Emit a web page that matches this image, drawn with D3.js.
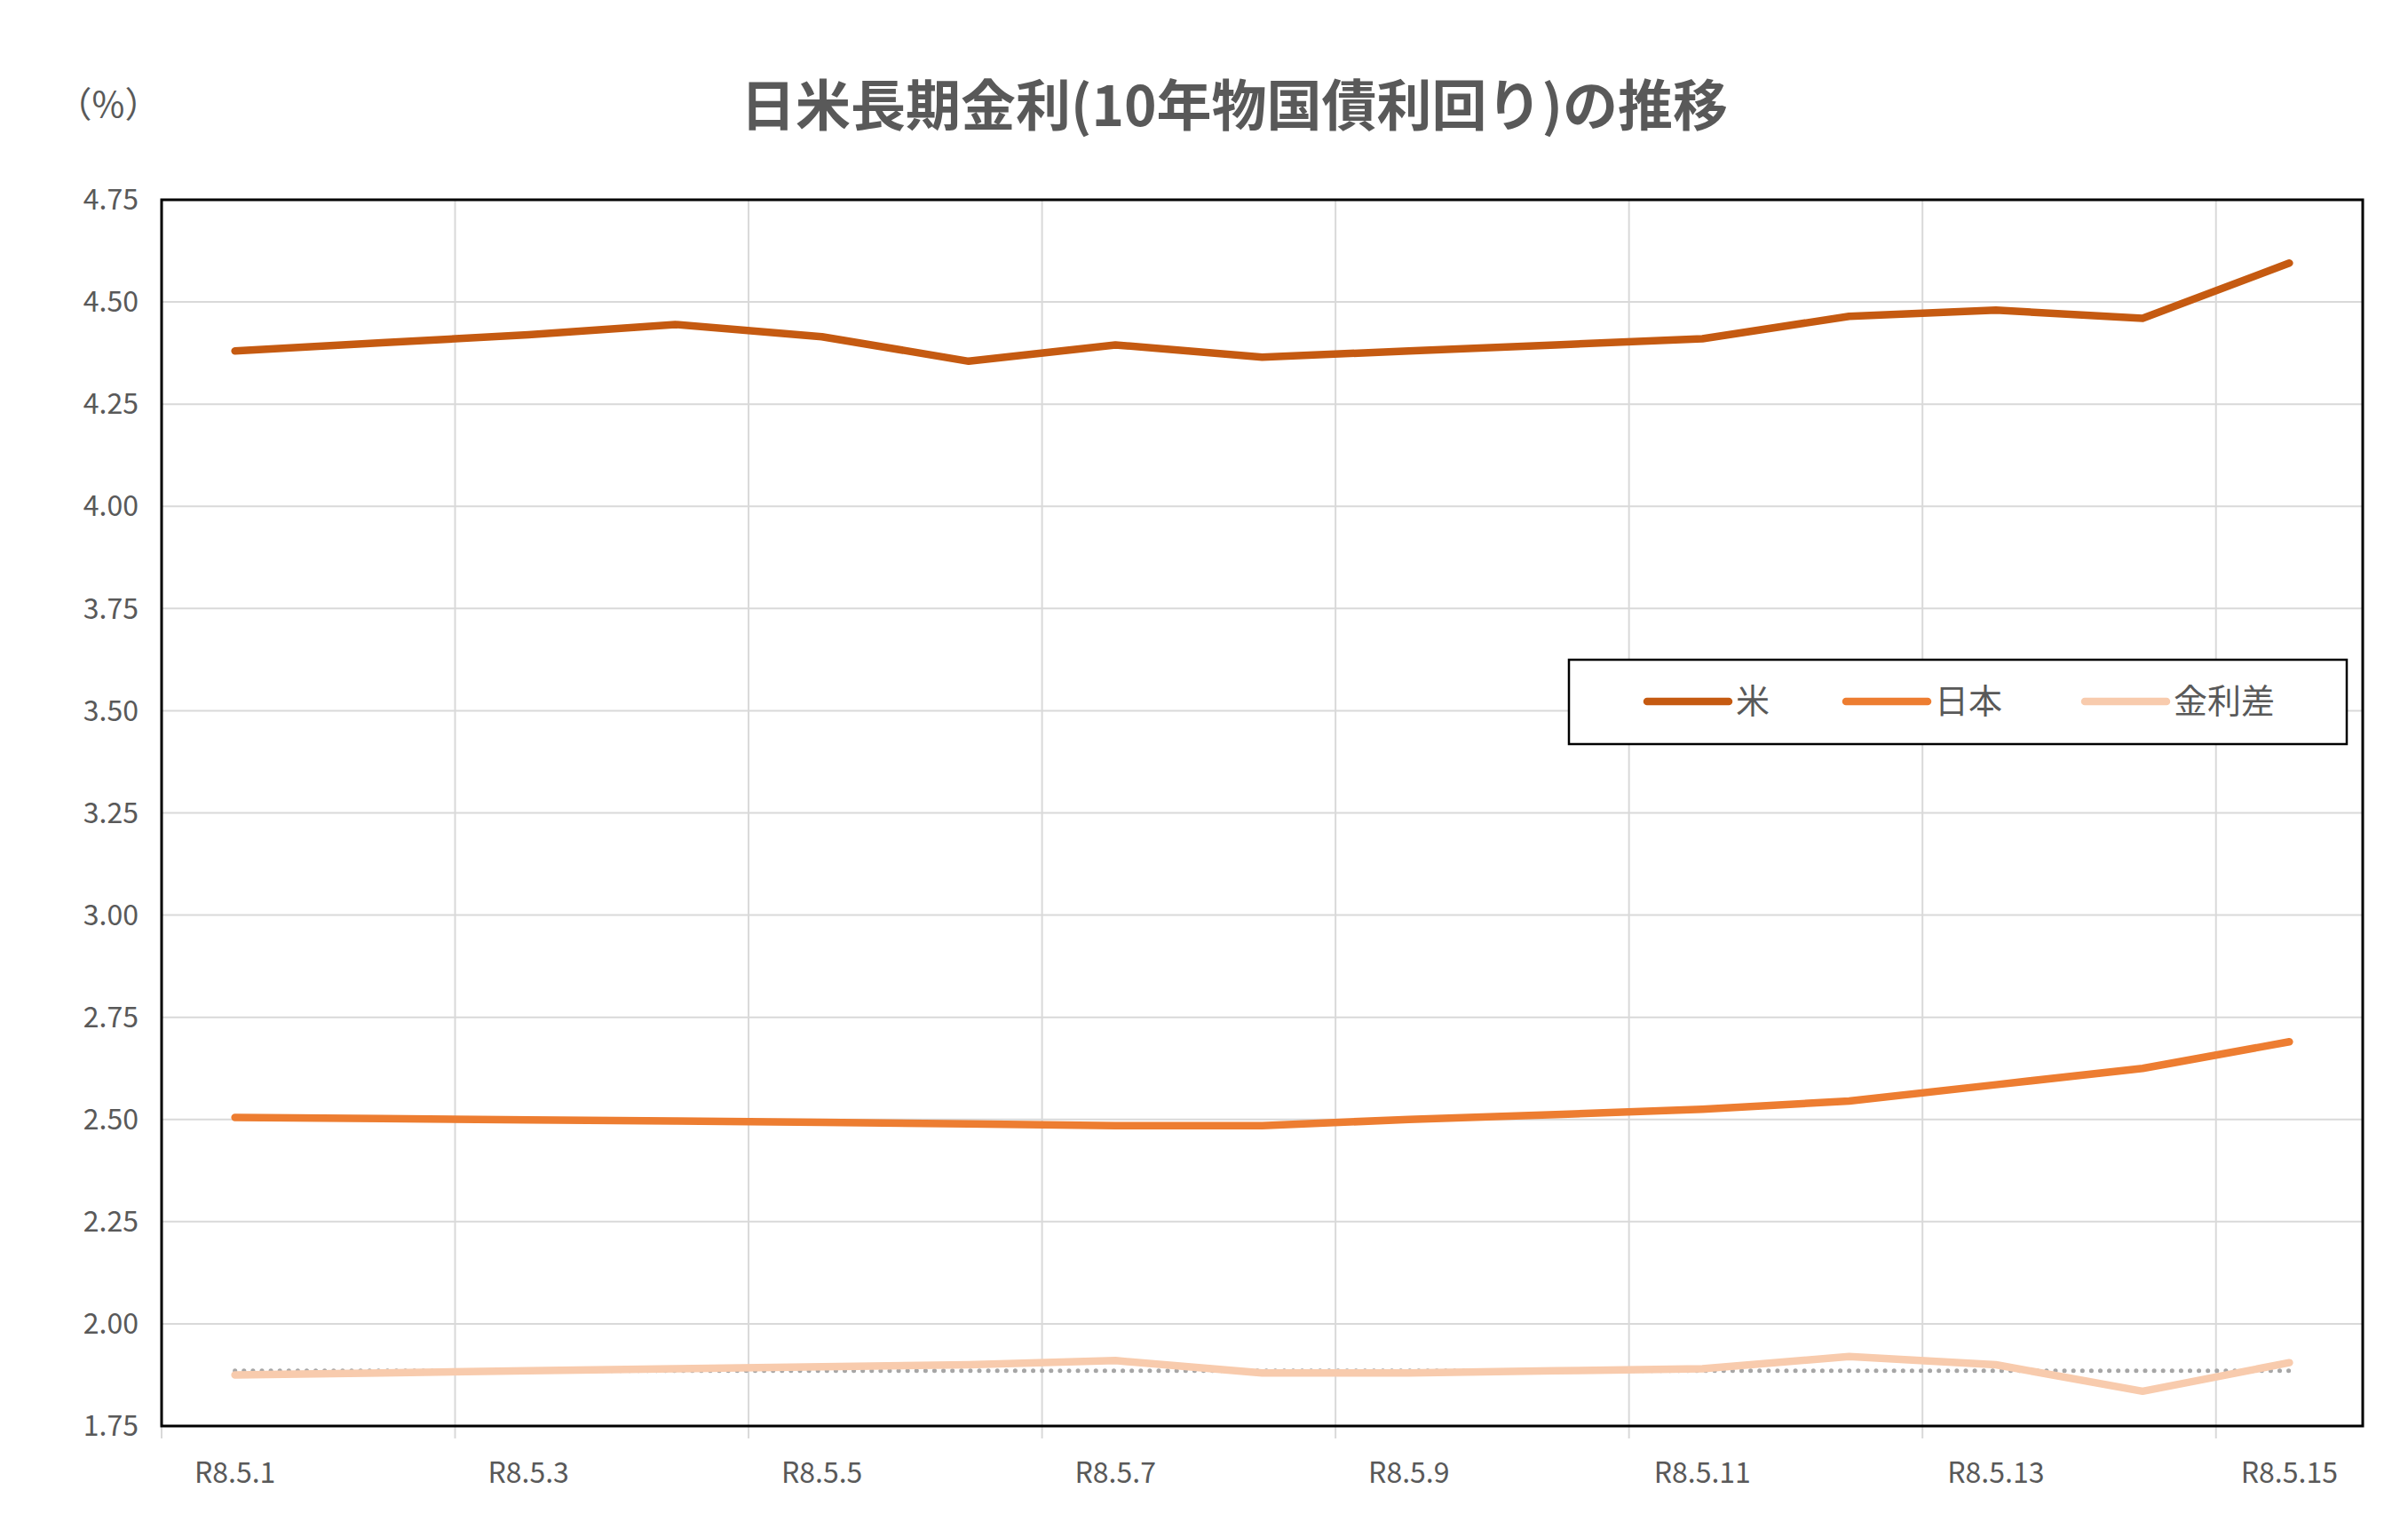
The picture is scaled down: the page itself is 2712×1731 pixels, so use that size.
<!DOCTYPE html>
<html><head><meta charset="utf-8">
<script src="https://cdn.jsdelivr.net/npm/d3@7"></script>
<style>body{margin:0;background:#fff}svg{font-family:"Noto Sans CJK JP","Noto Sans",sans-serif}</style>
</head><body><svg id="c" width="2712" height="1731"></svg>
<script>
const categories = ["R8.5.1","R8.5.2","R8.5.3","R8.5.4","R8.5.5","R8.5.6","R8.5.7","R8.5.8","R8.5.9","R8.5.10","R8.5.11","R8.5.12","R8.5.13","R8.5.14","R8.5.15"];
const usValues = [4.38,4.40,4.42,4.445,4.415,4.355,4.395,4.365,4.38,4.395,4.41,4.465,4.48,4.46,4.595];
const jpValues = [2.505,2.502,2.499,2.496,2.493,2.489,2.485,2.485,2.50,2.512,2.525,2.545,2.585,2.625,2.69];
const spreadValues = [1.875,1.88,1.885,1.89,1.895,1.90,1.91,1.88,1.88,1.885,1.89,1.92,1.90,1.835,1.905];
const avgSpread = 1.885;
const yTicks = [1.75,2.00,2.25,2.50,2.75,3.00,3.25,3.50,3.75,4.00,4.25,4.50,4.75];
const seriesNames = ["米","日本","金利差"];
const colors = ["#C55A11","#ED7D31","#F8CBAD"];

const svg = d3.select("#c");
const L=182, R=2661, T=225, B=1606;
const x = d3.scaleBand().domain(categories).range([L,R]);
const y = d3.scaleLinear().domain([1.75,4.75]).range([B,T]);

svg.append("g").selectAll("line").data(yTicks).join("line")
  .attr("x1",L).attr("x2",R).attr("y1",d=>y(d)).attr("y2",d=>y(d))
  .attr("stroke","#d9d9d9").attr("stroke-width",2);
const vIdx = d3.range(0,categories.length+1,2);
svg.append("g").selectAll("line").data(vIdx).join("line")
  .attr("x1",i=>L+i*x.step()).attr("x2",i=>L+i*x.step())
  .attr("y1",T).attr("y2",B+14)
  .attr("stroke","#d9d9d9").attr("stroke-width",2);
svg.append("g").selectAll("text").data(yTicks).join("text")
  .attr("x",L-26).attr("y",d=>y(d)).attr("dy","0.35em").attr("text-anchor","end")
  .attr("font-size",32).attr("fill","#595959").text(d=>d.toFixed(2));
svg.append("g").selectAll("text").data(categories.filter((d,i)=>i%2===0)).join("text")
  .attr("x",d=>x(d)+x.bandwidth()/2).attr("y",1670).attr("text-anchor","middle")
  .attr("font-size",32).attr("fill","#595959").text(d=>d);

svg.append("line").attr("x1",x(categories[0])+x.bandwidth()/2).attr("x2",x(categories[14])+x.bandwidth()/2)
  .attr("y1",y(avgSpread)).attr("y2",y(avgSpread))
  .attr("stroke","#a6a6a6").attr("stroke-width",5).attr("stroke-dasharray","0.1 10").attr("stroke-linecap","round");

const line = d3.line().x((d,i)=>x(categories[i])+x.bandwidth()/2).y(d=>y(d));
[spreadValues,jpValues,usValues].forEach((v,k)=>{
  svg.append("path").attr("d",line(v)).attr("fill","none")
    .attr("stroke",colors[2-k]).attr("stroke-width",8.5).attr("stroke-linejoin","round").attr("stroke-linecap","round");
});

svg.append("rect").attr("x",L).attr("y",T).attr("width",R-L).attr("height",B-T)
  .attr("fill","none").attr("stroke","#000").attr("stroke-width",3);

svg.append("rect").attr("x",1767).attr("y",743).attr("width",876).attr("height",95)
  .attr("fill","#fff").attr("stroke","#000").attr("stroke-width",2.5);
const lx=[1855,2079,2348];
seriesNames.forEach((n,i)=>{
  svg.append("line").attr("x1",lx[i]).attr("x2",lx[i]+92).attr("y1",790).attr("y2",790)
    .attr("stroke",colors[i]).attr("stroke-width",8.5).attr("stroke-linecap","round");
  svg.append("text").attr("x",lx[i]+100).attr("y",790).attr("dy","0.35em")
    .attr("font-size",38).attr("fill","#595959").text(n);
});

svg.append("text").attr("x",1390).attr("y",120).attr("dy","0.35em").attr("text-anchor","middle")
  .attr("font-size",62).attr("font-weight","bold").attr("fill","#595959").text("日米長期金利(10年物国債利回り)の推移");
svg.append("text").attr("x",122).attr("y",118).attr("dy","0.35em").attr("text-anchor","middle")
  .attr("font-size",40).attr("fill","#595959").text("（%）");
</script></body></html>
